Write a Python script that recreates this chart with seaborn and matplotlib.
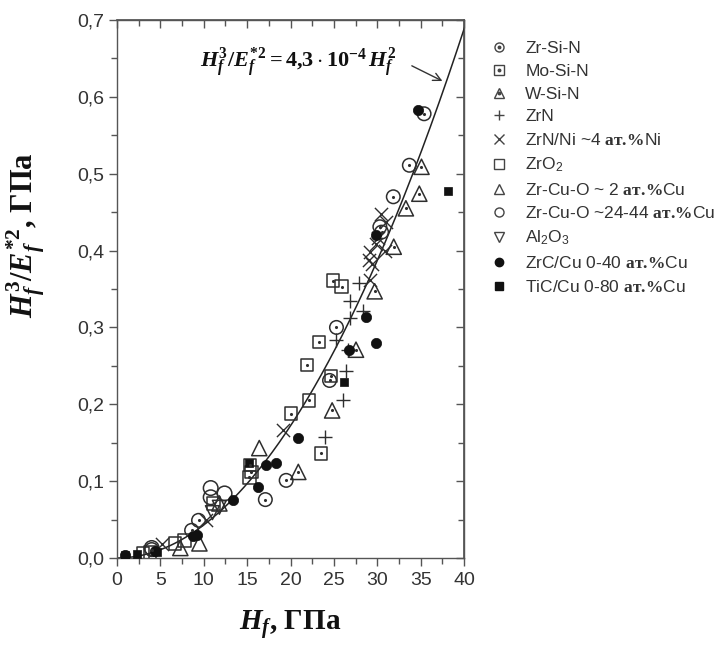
import numpy as np
import pandas as pd
import matplotlib
matplotlib.use("Agg")
import matplotlib.pyplot as plt
import seaborn as sns
from matplotlib.lines import Line2D
from matplotlib.ticker import MultipleLocator, FixedLocator, FixedFormatter, NullFormatter

# ---------------- data ----------------
series_names = ["Zr-Si-N", "Mo-Si-N", "W-Si-N", "ZrN", "ZrN/Ni", "ZrO2",
                "Zr-Cu-O 2", "Zr-Cu-O 24-44", "Al2O3", "ZrC/Cu", "TiC/Cu"]

zrsin_h = [35.4, 33.7, 31.85, 30.3, 30.5, 25.3, 24.5, 19.5, 17.1, 9.4, 8.6, 4.0]
zrsin_y = [0.578, 0.511, 0.470, 0.431, 0.424, 0.300, 0.231, 0.101, 0.076, 0.049, 0.036, 0.011]

mosin_h = [24.9, 25.9, 23.3, 21.9, 24.7, 22.1, 20.05, 23.5, 15.3, 15.5, 15.25]
mosin_y = [0.361, 0.353, 0.281, 0.251, 0.237, 0.205, 0.188, 0.136, 0.121, 0.112, 0.105]

wsin_h = [35.1, 34.85, 33.3, 31.9, 29.7, 27.55, 24.8, 20.9]
wsin_y = [0.509, 0.474, 0.455, 0.405, 0.347, 0.271, 0.192, 0.112]

zrn_h = [27.9, 26.9, 28.4, 26.9, 25.3, 26.6, 26.4, 26.1, 24.0]
zrn_y = [0.358, 0.335, 0.322, 0.312, 0.283, 0.271, 0.243, 0.205, 0.157]

zrnni_h = [30.4, 31.0, 30.1, 29.9, 30.9, 29.2, 29.0, 29.35, 29.2, 19.1, 10.3, 5.2]
zrnni_y = [0.448, 0.437, 0.416, 0.409, 0.400, 0.398, 0.388, 0.383, 0.362, 0.167, 0.049, 0.018]

zro2_h = [11.1, 7.8, 6.7, 3.0, 3.8]
zro2_y = [0.071, 0.023, 0.019, 0.006, 0.007]

zrcuo2_h = [16.4, 11.8, 7.3, 9.5]
zrcuo2_y = [0.143, 0.071, 0.013, 0.019]

zrcuo24_h = [10.8, 10.8, 12.4, 4.0]
zrcuo24_y = [0.091, 0.079, 0.084, 0.013]

al2o3_h = [11.0, 11.8]
al2o3_y = [0.059, 0.066]

zrccu_h = [34.65, 29.9, 28.7, 29.9, 26.7, 20.9, 17.2, 18.3, 16.3, 13.4, 8.8, 9.2, 4.4, 0.9]
zrccu_y = [0.583, 0.420, 0.314, 0.280, 0.271, 0.156, 0.121, 0.124, 0.093, 0.075, 0.028, 0.030, 0.009, 0.004]

ticcu_h = [38.2, 26.2, 15.25, 4.6, 2.3, 0.9]
ticcu_y = [0.478, 0.229, 0.123, 0.008, 0.005, 0.004]

fit_coef = 4.3e-4          # from the annotation H^3/E^2 = 4,3*10^-4 H^2
fit_h = np.linspace(0, 40.4, 200)

xticks = [0, 5, 10, 15, 20, 25, 30, 35, 40]
xtick_labels = ["0", "5", "10", "15", "20", "25", "30", "35", "40"]
yticks = [0.0, 0.1, 0.2, 0.3, 0.4, 0.5, 0.6, 0.7]
ytick_labels = ["0,0", "0,1", "0,2", "0,3", "0,4", "0,5", "0,6", "0,7"]

legend_labels = [
    "Zr-Si-N",
    "Mo-Si-N",
    "W-Si-N",
    "ZrN",
    r"ZrN/Ni ~4 $\mathbf{ат.\!\%}$Ni",
    r"ZrO$_\mathsf{2}$",
    r"Zr-Cu-O ~ 2 $\mathbf{ат.\!\%}$Cu",
    r"Zr-Cu-O ~24-44 $\mathbf{ат.\!\%}$Cu",
    r"Al$_\mathsf{2}$O$_\mathsf{3}$",
    r"ZrC/Cu 0-40 $\mathbf{ат.\!\%}$Cu",
    r"TiC/Cu 0-80 $\mathbf{ат.\!\%}$Cu",
]

# ---------------- styling ----------------
sns.set_theme(style="ticks")
plt.rcParams["font.family"] = ["Liberation Sans", "DejaVu Sans"]
plt.rcParams["mathtext.fontset"] = "custom"
plt.rcParams["mathtext.rm"] = "Liberation Serif:bold"
plt.rcParams["mathtext.it"] = "Liberation Serif:italic:bold"
plt.rcParams["mathtext.bf"] = "Liberation Serif:bold"
plt.rcParams["mathtext.sf"] = "Liberation Sans"

C = "#2e2e2e"
GREY = "#444444"
AX = "#555555"

fig = plt.figure(figsize=(7.21, 6.5), dpi=100)
ax = fig.add_axes([117 / 721, 92 / 650, 347 / 721, 538 / 650])

data = {
    "Zr-Si-N": (zrsin_h, zrsin_y),
    "Mo-Si-N": (mosin_h, mosin_y),
    "W-Si-N": (wsin_h, wsin_y),
    "ZrN": (zrn_h, zrn_y),
    "ZrN/Ni": (zrnni_h, zrnni_y),
    "ZrO2": (zro2_h, zro2_y),
    "Zr-Cu-O 2": (zrcuo2_h, zrcuo2_y),
    "Zr-Cu-O 24-44": (zrcuo24_h, zrcuo24_y),
    "Al2O3": (al2o3_h, al2o3_y),
    "ZrC/Cu": (zrccu_h, zrccu_y),
    "TiC/Cu": (ticcu_h, ticcu_y),
}
# marker, kind ('open','dot','line','filled'), size
style = {
    "Zr-Si-N": ("o", "dot", 95),
    "Mo-Si-N": ("s", "dot", 80),
    "W-Si-N": ("^", "dot", 120),
    "ZrN": ("+", "line", 110),
    "ZrN/Ni": ("x", "line", 90),
    "ZrO2": ("s", "open", 80),
    "Zr-Cu-O 2": ("^", "open", 120),
    "Zr-Cu-O 24-44": ("o", "open", 110),
    "Al2O3": ("v", "open", 100),
    "ZrC/Cu": ("o", "filled", 55),
    "TiC/Cu": ("s", "filled", 40),
}

frames = []
for name in series_names:
    h, y = data[name]
    frames.append(pd.DataFrame({"H": h, "R": y, "series": name}))
df = pd.concat(frames, ignore_index=True)

# fit curve
sns.lineplot(x=fit_h, y=fit_coef * fit_h ** 2, color="#222222", lw=1.1, ax=ax, zorder=2)

for name in series_names:
    sub = df[df.series == name]
    m, kind, s = style[name]
    if kind in ("open", "dot"):
        sns.scatterplot(data=sub, x="H", y="R", marker=m, s=s, facecolors="none",
                        edgecolor=C, linewidth=1.1, ax=ax, zorder=3)
        if kind == "dot":
            sns.scatterplot(data=sub, x="H", y="R", marker="o", s=5, color=C,
                            linewidth=0, ax=ax, zorder=4)
    elif kind == "line":
        sns.scatterplot(data=sub, x="H", y="R", marker=m, s=s, color=C,
                        linewidth=1.0, ax=ax, zorder=3)
    else:
        sns.scatterplot(data=sub, x="H", y="R", marker=m, s=s, color="#111111",
                        edgecolor="#111111", linewidth=0.5, ax=ax, zorder=3)

ax.set_xlim(0, 40)
ax.set_ylim(0, 0.7)
ax.xaxis.set_major_locator(FixedLocator(xticks))
ax.xaxis.set_major_formatter(FixedFormatter(xtick_labels))
ax.yaxis.set_major_locator(FixedLocator(yticks))
ax.yaxis.set_major_formatter(FixedFormatter(ytick_labels))
ax.xaxis.set_minor_locator(MultipleLocator(2.5))
ax.yaxis.set_minor_locator(MultipleLocator(0.05))

for sp in ax.spines.values():
    sp.set_visible(True)
    sp.set_color(AX)
    sp.set_linewidth(1.0)

ax.tick_params(axis="both", which="both", colors=AX, labelcolor="#333333",
               top=False, right=False, direction="out", width=1)
ax.tick_params(axis="both", which="major", labelsize=14, length=6)
ax.tick_params(axis="both", which="minor", length=4)
ax.tick_params(axis="x", pad=4)
ax.tick_params(axis="y", pad=3)

# inward ticks on top and right
sx = ax.secondary_xaxis("top")
sx.xaxis.set_major_locator(FixedLocator(xticks))
sx.xaxis.set_minor_locator(MultipleLocator(2.5))
sx.xaxis.set_major_formatter(NullFormatter())
sx.tick_params(which="both", direction="in", colors=AX, width=1)
sx.tick_params(which="major", length=6)
sx.tick_params(which="minor", length=4)
sx.spines["top"].set_color(AX)
sy = ax.secondary_yaxis("right")
sy.yaxis.set_major_locator(FixedLocator(yticks))
sy.yaxis.set_minor_locator(MultipleLocator(0.05))
sy.yaxis.set_major_formatter(NullFormatter())
sy.tick_params(which="both", direction="in", colors=AX, width=1)
sy.tick_params(which="major", length=6)
sy.tick_params(which="minor", length=4)
sy.spines["right"].set_color(AX)

ax.set_xlabel(r"$H_f$, ГПа", fontsize=21, fontfamily="Liberation Serif",
              fontweight="bold", color="#111111", labelpad=14)
ax.set_ylabel(r"$H_f^3/E_f^{*2}$, ГПа", fontsize=22, fontfamily="Liberation Serif",
              fontweight="bold", color="#111111")
ax.yaxis.set_label_coords(-0.20, 0.60)

ax.text(20.9, 0.645, r"$H_f^3/E_f^{*2} = 4{,}3\cdot 10^{-4}\,H_f^2$",
        fontsize=16, ha="center", va="center", color="#111111")
ax.annotate("", xy=(37.8, 0.619), xytext=(33.7, 0.642),
            arrowprops=dict(arrowstyle="->", color="#333333", lw=1.0,
                            mutation_scale=14))

# legend
handles = []
for name in series_names:
    m, kind, s = style[name]
    ms = 6.5 if m not in ("^", "v") else 7
    if kind in ("open", "dot"):
        h1 = Line2D([], [], ls="none", marker=m, ms=ms, mfc="none", mec=GREY, mew=1.0)
        if kind == "dot":
            h2 = Line2D([], [], ls="none", marker="o", ms=1.8, mfc=GREY, mec=GREY)
            handles.append((h1, h2))
        else:
            handles.append(h1)
    elif kind == "line":
        handles.append(Line2D([], [], ls="none", marker=m, ms=7, mec=GREY, mew=1.0))
    else:
        handles.append(Line2D([], [], ls="none", marker=m, ms=6 if m == "o" else 5.5,
                              mfc="#111111", mec="#111111"))

leg = fig.legend(handles, legend_labels, loc="upper left",
                 bbox_to_anchor=(482 / 721, 1 - 34 / 650), frameon=False,
                 fontsize=12.5, handlelength=1.2, handletextpad=0.9,
                 labelspacing=0.44, borderaxespad=0)
for t in leg.get_texts():
    t.set_color("#333333")

fig.savefig("out.png", dpi=100)
